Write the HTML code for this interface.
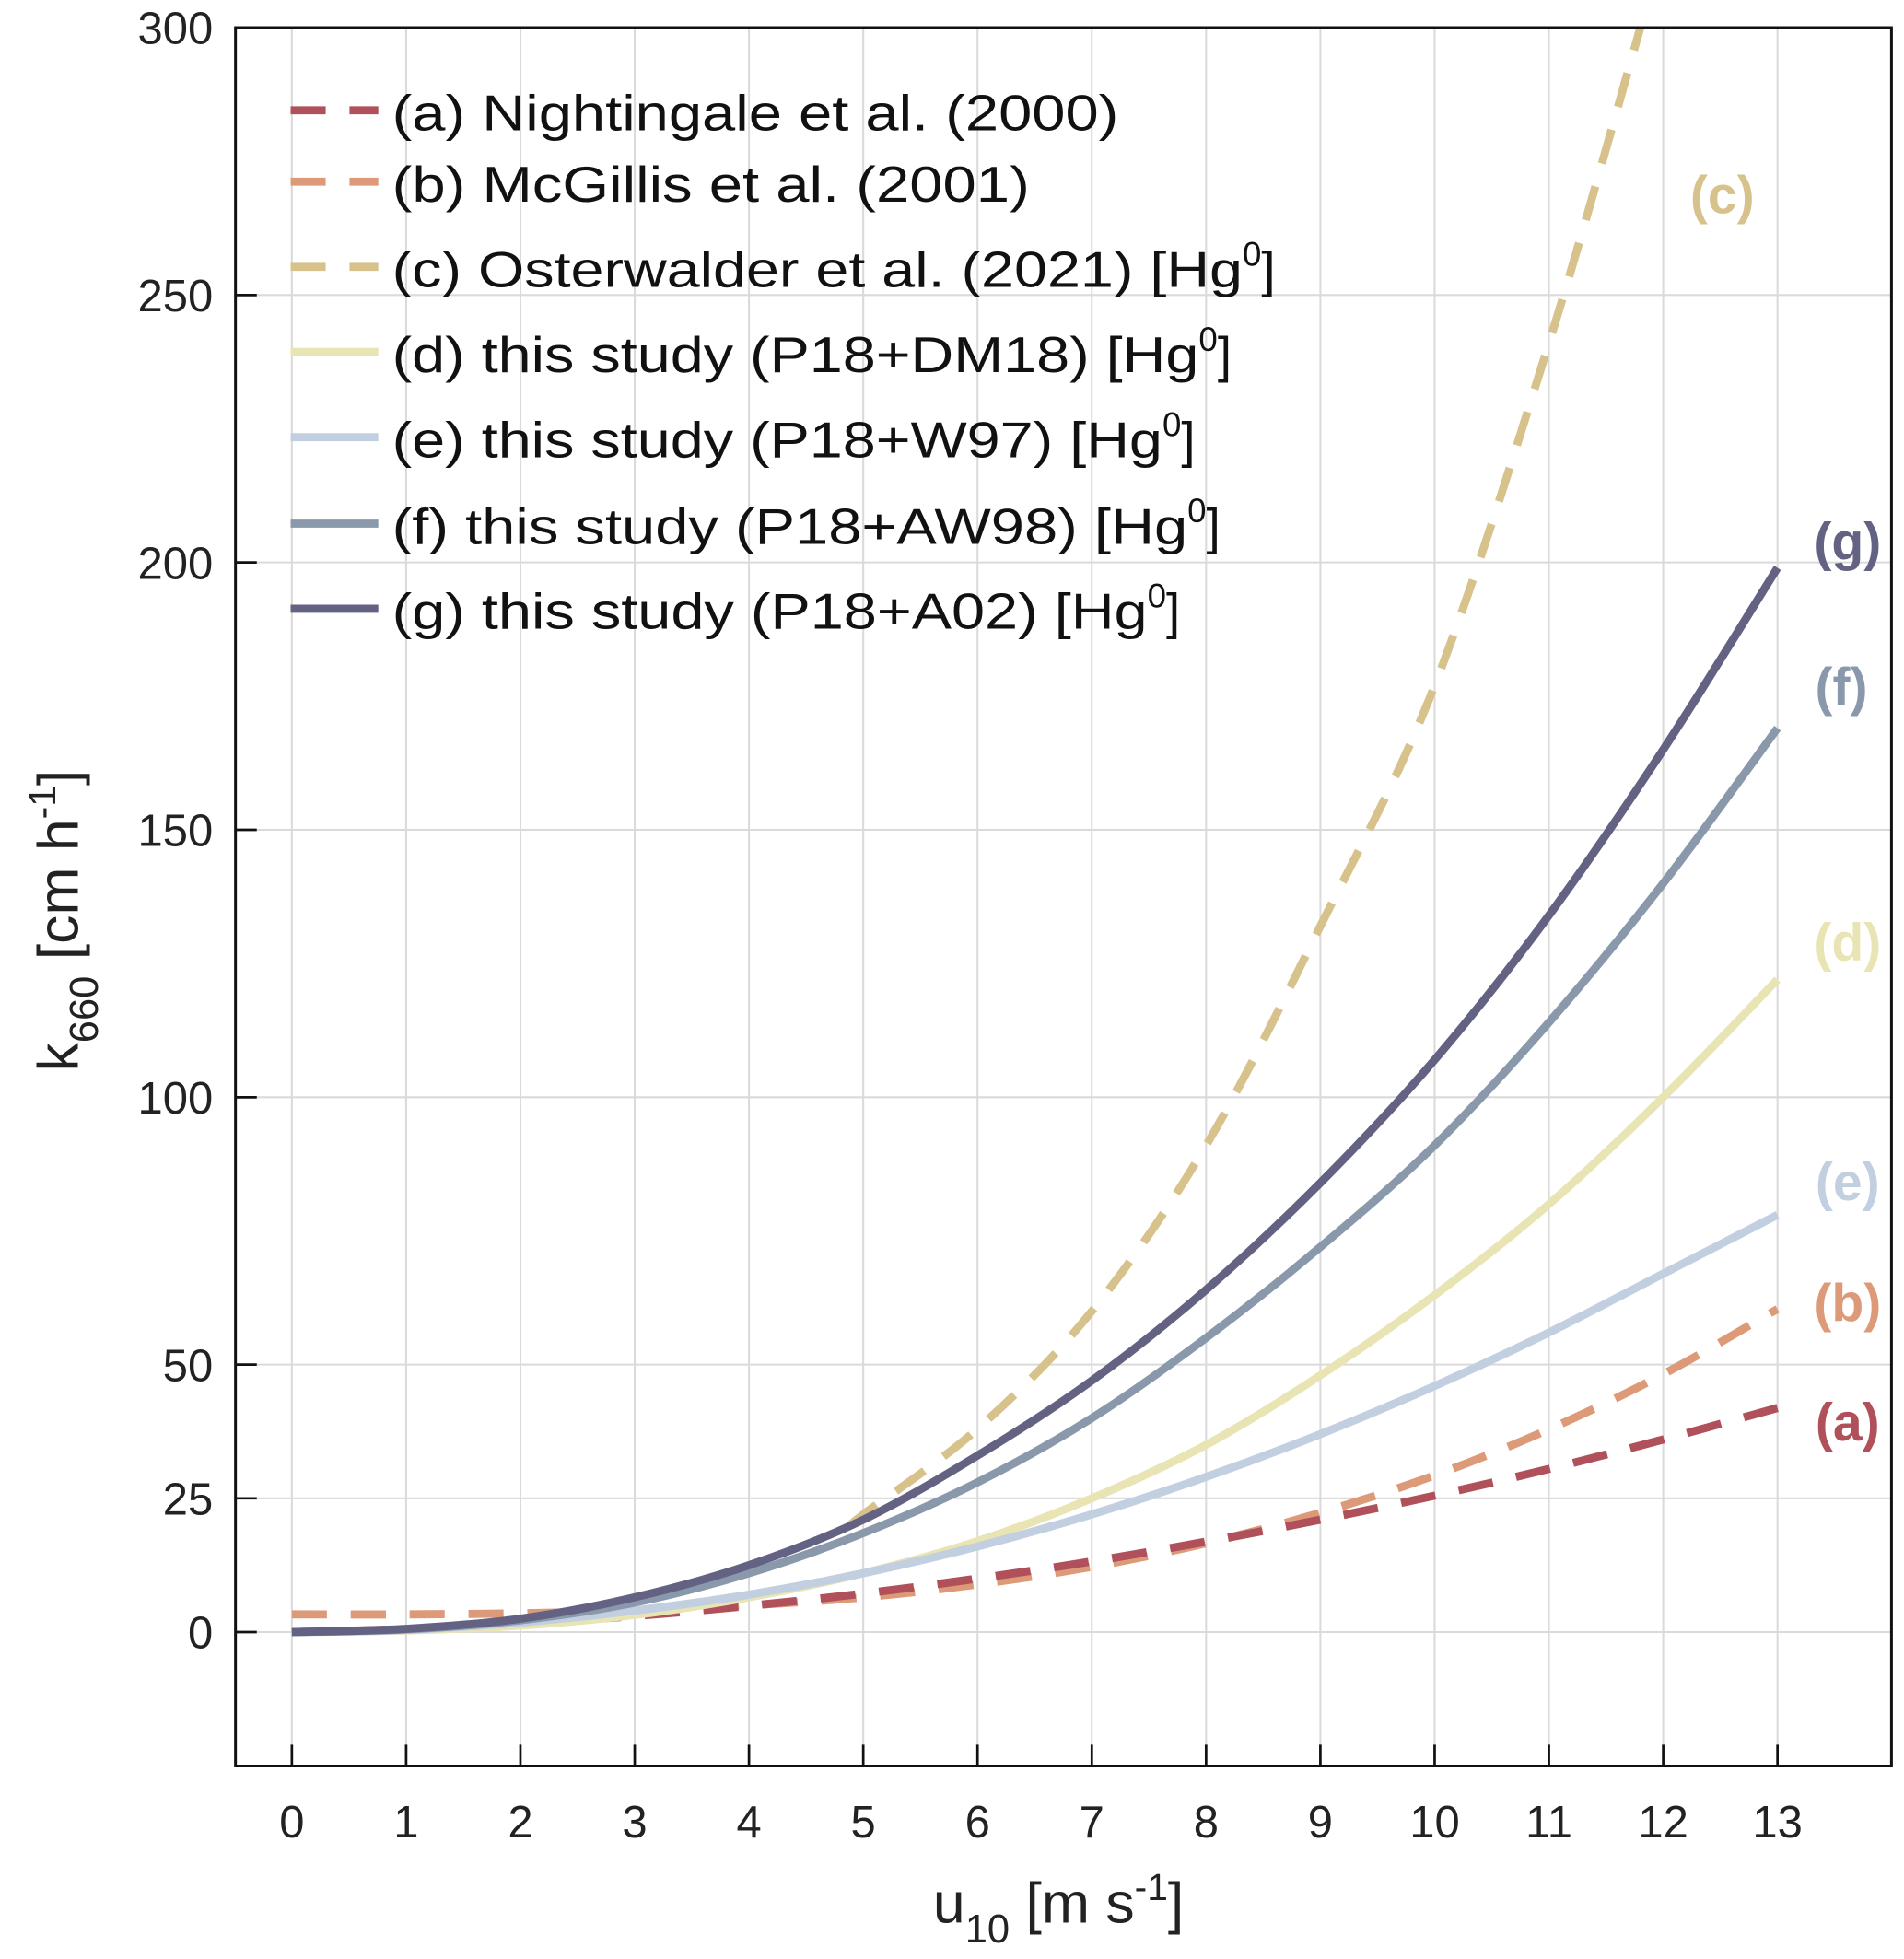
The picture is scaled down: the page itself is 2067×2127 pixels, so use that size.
<!DOCTYPE html>
<html><head><meta charset="utf-8"><style>
html,body{margin:0;padding:0;background:#fff;}
svg{display:block;font-family:"Liberation Sans",sans-serif;}
</style></head><body>
<svg id="chart" width="2067" height="2127" viewBox="0 0 1520 1564" xmlns="http://www.w3.org/2000/svg">
<g id="grid"></g>
<g id="series"></g>
<rect x="188" y="22" width="1322" height="1388" fill="none" stroke="#111" stroke-width="2.2"/>
<g id="axes"></g>
<g id="legend"></g>
<g id="endlabels"></g>
<text x="845" y="1535" text-anchor="middle" font-size="46" fill="#222">u<tspan font-size="32" dy="16">10</tspan><tspan dy="-16"> [m s</tspan><tspan font-size="30" dy="-18">-1</tspan><tspan dy="18">]</tspan></text>
<text transform="translate(62,735) rotate(-90)" text-anchor="middle" font-size="46" fill="#222">k<tspan font-size="32" dy="16">660</tspan><tspan dy="-16"> [cm h</tspan><tspan font-size="30" dy="-18">-1</tspan><tspan dy="18">]</tspan></text>
</svg>
<script>
const xTicks=[0,1,2,3,4,5,6,7,8,9,10,11,12,13];
const yTicks=[0,25,50,100,150,200,250,300];
const uGrid=[0,1,2,3,4,5,6,7,8,9,10,11,12,13];
const kA=[0,0.56,1.55,3,4.9,7.2,10,13.2,16.9,21,25.5,30.5,36,41.9];
const kB=[3.3,3.3,3.5,4,5,6.5,8.9,12.2,16.6,22.3,29.3,37.9,48.2,60.4];
const uC=[4.9,5,6,7,8,9,10,11,11.8];
const kC=[20,22,38,60,91,132,177,241,300];
const kD=[0,0.3,1.2,3.2,6.5,11,17,25,35,48,63,80,100,122];
const kE=[0,0.4,1.8,4,7,11,16,22,29,37,46,56,67,78];
const kF=[0,0.5,2.2,5.5,11,18.5,28,40,55,72,91,114,140,169];
const kG=[0,0.6,2.5,6.5,12.5,21,33,47,64,84,107,134,165,199];
const names=["(a) Nightingale et al. (2000)","(b) McGillis et al. (2001)","(c) Osterwalder et al. (2021) [Hg","(d) this study (P18+DM18) [Hg","(e) this study (P18+W97) [Hg","(f) this study (P18+AW98) [Hg","(g) this study (P18+A02) [Hg"];
const NS="http://www.w3.org/2000/svg";
const X=u=>233+u*(1419-233)/13;
const Y=k=>1303-k*(1303-22)/300;
function mk(tag,attrs,parent){const e=document.createElementNS(NS,tag);for(const k in attrs)e.setAttribute(k,attrs[k]);parent.appendChild(e);return e;}
const grid=document.getElementById('grid'),axes=document.getElementById('axes');
xTicks.forEach(t=>{
 const l=mk('line',{x1:X(t),x2:X(t),y1:22,y2:1410,stroke:'#dadada','stroke-width':1.5},grid);
 
 
 const tk=mk('line',{x1:X(t),x2:X(t),y1:1410,y2:1393,stroke:'#111','stroke-width':2},axes);
 
 
 const tx=mk('text',{x:X(t),y:1467,'text-anchor':'middle','font-size':36,fill:'#222'},axes);
 tx.textContent=t;
 
 
});
yTicks.forEach(t=>{
 const l=mk('line',{x1:188,x2:1510,y1:Y(t),y2:Y(t),stroke:'#dadada','stroke-width':1.5},grid);
 
 
 const tk=mk('line',{x1:188,x2:205,y1:Y(t),y2:Y(t),stroke:'#111','stroke-width':2},axes);
 
 
 const tx=mk('text',{x:170,y:Y(t)+13,'text-anchor':'end','font-size':36,fill:'#222'},axes);
 tx.textContent=t;
 
 
});
function pathD(us,ks){
 const p=us.map((u,i)=>[X(u),Y(ks[i])]);
 let d='M'+p[0][0]+','+p[0][1];
 for(let i=0;i<p.length-1;i++){
  const p0=p[Math.max(0,i-1)],p1=p[i],p2=p[i+1],p3=p[Math.min(p.length-1,i+2)];
  const c1=[p1[0]+(p2[0]-p0[0])/6,p1[1]+(p2[1]-p0[1])/6];
  const c2=[p2[0]-(p3[0]-p1[0])/6,p2[1]-(p3[1]-p1[1])/6];
  d+=' C'+c1+' '+c2+' '+p2;
 }
 return d;
}
const cols=['#b0505a','#dc9a78','#d8c28c','#e8e4b4','#c2cfe0','#8a98ab','#636283'];
const series=[[uGrid,kA,1],[uGrid,kB,1],[uC,kC,1],[uGrid,kD,0],[uGrid,kE,0],[uGrid,kF,0],[uGrid,kG,0]];
const sNames=['curve-a-nightingale','curve-b-mcgillis','curve-c-osterwalder','curve-d-dm18','curve-e-w97','curve-f-aw98','curve-g-a02'];
const sg=document.getElementById('series');
const clip=mk('clipPath',{id:'pc'},sg);mk('rect',{x:188,y:22,width:1322,height:1388},clip);
[1,0,2,3,4,5,6].forEach(i=>{
 const [us,ks,dash]=series[i];
 const a={d:pathD(us,ks),fill:'none',stroke:cols[i],'stroke-width':6.5,'clip-path':'url(#pc)'};
 if(dash)a['stroke-dasharray']='28 19';
 const p=mk('path',a,sg);
 
 
});
const lg=document.getElementById('legend');
const rows=[90,147,215,283,351,420,488];
const widths=[580,509,719,684,655,675,643];
names.forEach((n,i)=>{
 const y=rows[i];
 const ln=mk('line',{x1:232,x2:302,y1:y-2,y2:y-2,stroke:cols[i],'stroke-width':6.5},lg);
 if(i<3)ln.setAttribute('stroke-dasharray','28 19');
 
 
 const t=mk('text',{x:313,y:y+14,'font-size':40,fill:'#111'},lg);
 
 
 if(i<2){t.textContent=n;t.setAttribute('textLength',widths[i]);t.setAttribute('lengthAdjust','spacingAndGlyphs');}
 else{
  const a=mk('tspan',{},t);a.textContent=n;
  const w0=widths[i]-40;a.setAttribute('textLength',w0);a.setAttribute('lengthAdjust','spacingAndGlyphs');
  const b=mk('tspan',{'font-size':27,dy:-17},t);b.textContent='0';
  const c=mk('tspan',{dy:17},t);c.textContent=']';
 }
});
const el=document.getElementById('endlabels');
const ends=[['(c)',1375,155,2],['(g)',1475,432,6],['(f)',1470,548,5],['(d)',1475,752,3],['(e)',1475,943,4],['(b)',1475,1040,1],['(a)',1475,1135,0]];
ends.forEach(e=>{
 const t=mk('text',{x:e[1],y:e[2]+15,'text-anchor':'middle','font-size':42,'font-weight':'bold',fill:cols[e[3]]},el);
 t.textContent=e[0];
 
 
});
</script>
</body></html>
